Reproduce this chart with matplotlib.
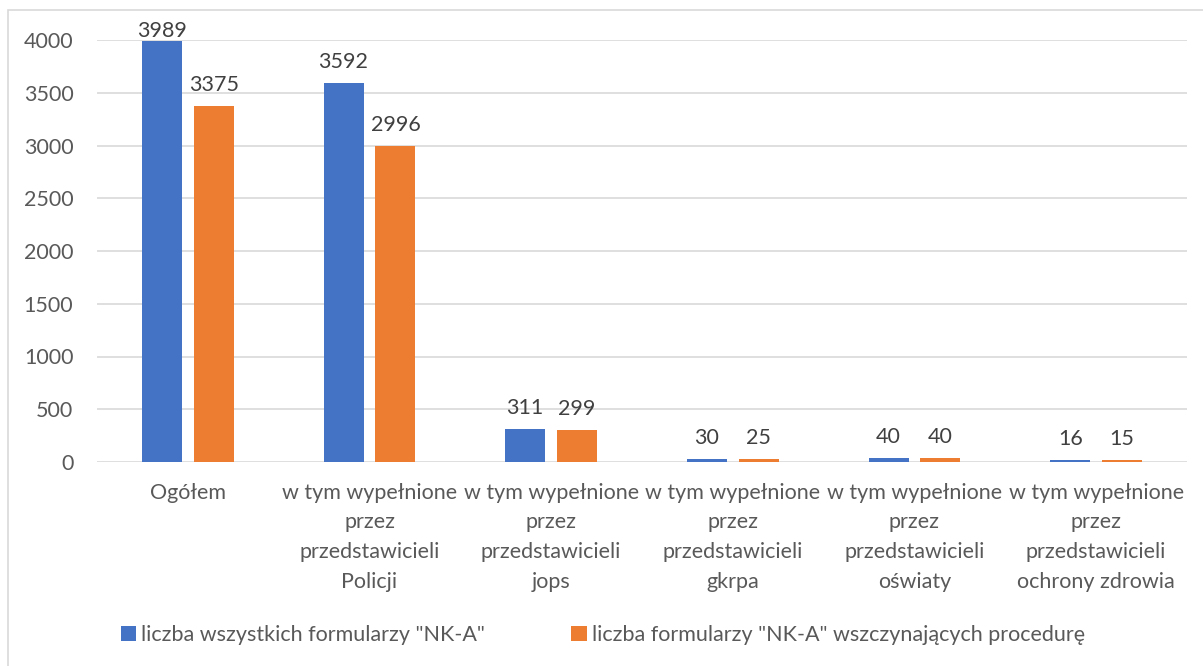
import matplotlib
matplotlib.use('Agg')
import matplotlib.pyplot as plt
from matplotlib.patches import Rectangle
import numpy as np

# data
categories = ['Ogółem',
              'w tym wypełnione\nprzez\nprzedstawicieli\nPolicji',
              'w tym wypełnione\nprzez\nprzedstawicieli\njops',
              'w tym wypełnione\nprzez\nprzedstawicieli\ngkrpa',
              'w tym wypełnione\nprzez\nprzedstawicieli\noświaty',
              'w tym wypełnione\nprzez\nprzedstawicieli\nochrony zdrowia']
all_forms = [3989, 3592, 311, 30, 40, 16]
started_forms = [3375, 2996, 299, 25, 40, 15]
series_names = ['liczba wszystkich formularzy "NK-A"',
                'liczba formularzy "NK-A" wszczynających procedurę']
yticks = [0, 500, 1000, 1500, 2000, 2500, 3000, 3500, 4000]

plt.rcParams['font.family'] = ['Lato', 'DejaVu Sans']
text_color = '#595959'
fs = 15.5

fig = plt.figure(figsize=(12.03, 6.66), dpi=100)
ax = fig.add_axes([97/1203, 1 - 462/666, 1090/1203, 422/666])

x = np.arange(len(categories))
w = 0.22
off = 0.143
b1 = ax.bar(x - off, all_forms, w, color='#4472C4', label=series_names[0], zorder=3)
b2 = ax.bar(x + off, started_forms, w, color='#ED7D31', label=series_names[1], zorder=3)

# data labels; like Excel, keep them inside the chart area near the top
ymax = 4000
for bars in (b1, b2):
    for rect in bars:
        h = rect.get_height()
        ylab = min(h + 200, ymax + 85)
        ax.text(rect.get_x() + rect.get_width() / 2, ylab, str(int(h)),
                ha='center', va='center', fontsize=fs, color='#404040',
                clip_on=False, zorder=4)

ax.set_xlim(-0.5, len(categories) - 0.5)
ax.set_ylim(0, ymax)
ax.set_yticks(yticks)
ax.set_xticks(x)
ax.set_xticklabels(categories, fontsize=fs, color=text_color, linespacing=1.6)
ax.tick_params(axis='y', labelsize=fs, labelcolor=text_color, length=0, pad=17)
ax.tick_params(axis='x', length=0, pad=15)
ax.grid(axis='y', color='#d9d9d9', linewidth=1.2, zorder=0)
for s in ax.spines.values():
    s.set_visible(False)

leg = fig.legend(loc='center', bbox_to_anchor=(603/1203, 1 - 635/666), ncol=2,
                 frameon=False, fontsize=fs, handlelength=0.7, handleheight=0.7,
                 handletextpad=0.25, columnspacing=4.0)
for t in leg.get_texts():
    t.set_color(text_color)

# chart border (Excel-like)
fig.patches.append(Rectangle((8/1203, -0.1), 1.2, 1 - 10/666 + 0.1,
                             transform=fig.transFigure, fill=False,
                             edgecolor='#d9d9d9', linewidth=1.2))

plt.savefig('out.png', dpi=100)
